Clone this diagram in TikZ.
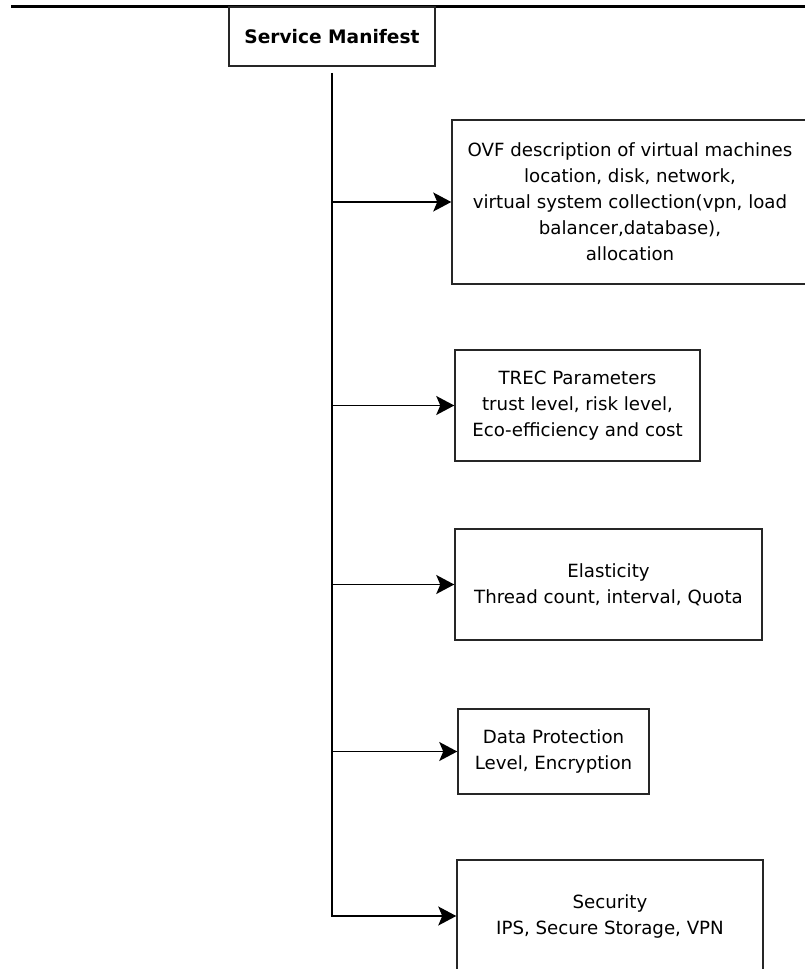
\documentclass[tikz,border=0pt]{standalone}
\usepackage{fontspec}
\setmainfont{DejaVu Sans}
\usetikzlibrary{arrows.meta, positioning}

\begin{document}
\begin{tikzpicture}[x=1pt, y=-1pt,
  box/.style={draw=black!85, line width=1.5pt, align=center, inner sep=0pt,
    font=\fontsize{18.2}{26}\selectfont},
  arr/.style={line width=1.5pt, -{Stealth[length=18pt, width=19pt, inset=4pt]}}]
\useasboundingbox (0,0) rectangle (805,969);
\draw [line width=2.5pt] (11,6.5) -- (805,6.5);
\node (sm) at (332,36.5) [box, minimum width=206pt, minimum height=59pt,
  font=\fontsize{18.6}{22}\selectfont\bfseries] {Service Manifest};
\node (ovf) at (630,202) [box, minimum width=356pt, minimum height=164pt]
  {OVF description of virtual machines\\location, disk, network,\\virtual system collection(vpn, load\\balancer,database),\\allocation};
\node (trec) at (577.5,405.5) [box, minimum width=245pt, minimum height=111pt]
  {TREC Parameters\\trust level, risk level,\\Eco-efficiency and cost};
\node (elast) at (608.5,584.5) [box, minimum width=307pt, minimum height=111pt]
  {Elasticity\\Thread count, interval, Quota};
\node (dp) at (553.5,751.5) [box, minimum width=191pt, minimum height=85pt]
  {Data Protection\\Level, Encryption};
\node (sec) at (610,916) [box, minimum width=306pt, minimum height=112pt]
  {Security\\IPS, Secure Storage, VPN};
% trunk and branches
\draw [arr, shorten <=6pt] (sm.south) -- (sm.south |- sec.west) -- (sec.west);
\draw [arr] (sm.south |- ovf.west) -- (ovf.west);
\draw [arr] (sm.south |- trec.west) -- (trec.west);
\draw [arr] (sm.south |- elast.west) -- (elast.west);
\draw [arr] (sm.south |- dp.west) -- (dp.west);
\end{tikzpicture}
\end{document}
